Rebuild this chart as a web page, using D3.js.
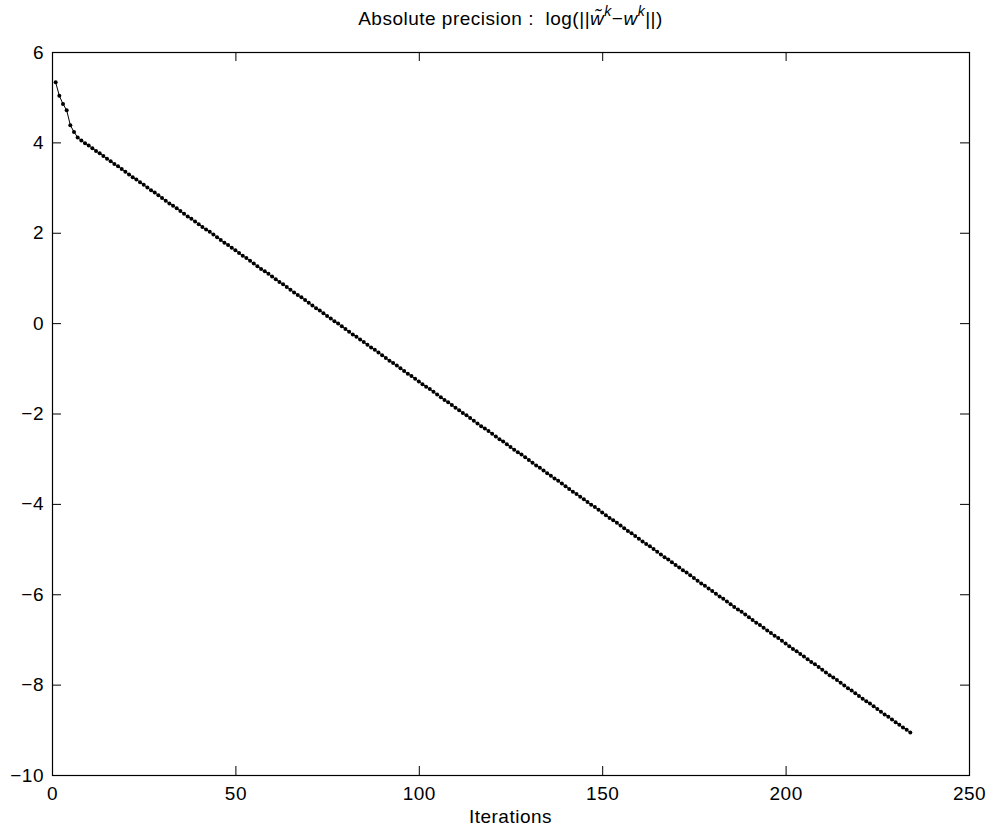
<!DOCTYPE html>
<html>
<head>
<meta charset="utf-8">
<script src="https://cdn.jsdelivr.net/npm/d3@7"></script>
<style>
  body { margin: 0; background: #fff; }
  svg text { font-family: "Liberation Sans", Arial, Helvetica, sans-serif; fill: #000; letter-spacing: 0.5px; }
</style>
</head>
<body>
<svg id="chart"></svg>
<script>
var width = 992,
    height = 832,
    margin = {top: 52, right: 23, bottom: 57, left: 52};

// iteration k = 1 .. 234, value log(||w~k - wk||)
var firstIter = 1;
var precision = [
    5.33, 5.03, 4.85, 4.71, 4.38, 4.23, 4.11, 4.04, 3.98,
    3.93, 3.87, 3.81, 3.76, 3.70, 3.64, 3.58, 3.52, 3.47, 3.41,
    3.35, 3.29, 3.23, 3.18, 3.12, 3.06, 3.00, 2.94, 2.89, 2.83,
    2.77, 2.71, 2.65, 2.60, 2.54, 2.48, 2.42, 2.36, 2.31, 2.25,
    2.19, 2.13, 2.07, 2.02, 1.96, 1.90, 1.84, 1.78, 1.73, 1.67,
    1.61, 1.55, 1.49, 1.44, 1.38, 1.32, 1.26, 1.20, 1.15, 1.09,
    1.03, 0.97, 0.91, 0.86, 0.80, 0.74, 0.68, 0.62, 0.57, 0.51,
    0.45, 0.39, 0.33, 0.28, 0.22, 0.16, 0.10, 0.04, -0.01, -0.07,
    -0.13, -0.19, -0.25, -0.30, -0.36, -0.42, -0.48, -0.54, -0.59, -0.65,
    -0.71, -0.77, -0.83, -0.88, -0.94, -1.00, -1.06, -1.12, -1.17, -1.23,
    -1.29, -1.35, -1.41, -1.46, -1.52, -1.58, -1.64, -1.70, -1.75, -1.81,
    -1.87, -1.93, -1.99, -2.04, -2.10, -2.16, -2.22, -2.28, -2.33, -2.39,
    -2.45, -2.51, -2.57, -2.62, -2.68, -2.74, -2.80, -2.86, -2.91, -2.97,
    -3.03, -3.09, -3.15, -3.20, -3.26, -3.32, -3.38, -3.44, -3.49, -3.55,
    -3.61, -3.67, -3.73, -3.78, -3.84, -3.90, -3.96, -4.02, -4.07, -4.13,
    -4.19, -4.25, -4.31, -4.36, -4.42, -4.48, -4.54, -4.60, -4.65, -4.71,
    -4.77, -4.83, -4.89, -4.94, -5.00, -5.06, -5.12, -5.18, -5.23, -5.29,
    -5.35, -5.41, -5.47, -5.52, -5.58, -5.64, -5.70, -5.76, -5.81, -5.87,
    -5.93, -5.99, -6.05, -6.10, -6.16, -6.22, -6.28, -6.34, -6.39, -6.45,
    -6.51, -6.57, -6.63, -6.68, -6.74, -6.80, -6.86, -6.92, -6.97, -7.03,
    -7.09, -7.15, -7.21, -7.26, -7.32, -7.38, -7.44, -7.50, -7.55, -7.61,
    -7.67, -7.73, -7.79, -7.84, -7.90, -7.96, -8.02, -8.08, -8.13, -8.19,
    -8.25, -8.31, -8.37, -8.42, -8.48, -8.54, -8.60, -8.66, -8.71, -8.77,
    -8.83, -8.89, -8.95, -9.00, -9.06
];

var xTicks = [0, 50, 100, 150, 200, 250];
var yTicks = [-10, -8, -6, -4, -2, 0, 2, 4, 6];
var xLabel = "Iterations";

var w = width - margin.left - margin.right,
    h = height - margin.top - margin.bottom;

var svg = d3.select("#chart")
    .attr("width", width)
    .attr("height", height);

var g = svg.append("g")
    .attr("transform", "translate(" + margin.left + "," + margin.top + ")");

var x = d3.scaleLinear().domain([0, 250]).range([0, w]);
var y = d3.scaleLinear().domain([-10, 6]).range([h, 0]);

var data = precision.map(function (v, i) {
    return {k: firstIter + i, v: v};
});

// axes, ticks pointing inward like matlab
var fontSize = 19;

g.append("g")
    .attr("class", "axis")
    .attr("transform", "translate(0," + h + ")")
    .call(d3.axisBottom(x).tickValues(xTicks).tickSizeInner(-9).tickSizeOuter(0).tickPadding(12));

g.append("g")
    .attr("class", "axis")
    .call(d3.axisLeft(y).tickValues(yTicks).tickSizeInner(-9).tickSizeOuter(0).tickPadding(8));

g.append("g")
    .attr("class", "axis")
    .call(d3.axisTop(x).tickValues(xTicks).tickSizeInner(-9).tickSizeOuter(0).tickFormat(""));

g.append("g")
    .attr("class", "axis")
    .attr("transform", "translate(" + w + ",0)")
    .call(d3.axisRight(y).tickValues(yTicks).tickSizeInner(-9).tickSizeOuter(0).tickFormat(""));

g.selectAll(".axis .domain").remove();
g.selectAll(".axis line").attr("stroke", "#000").attr("stroke-width", 1);
g.selectAll(".axis text")
    .style("font-size", fontSize + "px")
    .style("font-family", null)
    .attr("font-family", null)
    .attr("fill", "#000");

g.append("rect")
    .attr("x", 0.5)
    .attr("y", 0.5)
    .attr("width", w)
    .attr("height", h)
    .attr("fill", "none")
    .attr("stroke", "#000")
    .attr("stroke-width", 1.2);

// curve
var line = d3.line()
    .x(function (d) { return x(d.k); })
    .y(function (d) { return y(d.v); });

g.append("path")
    .datum(data)
    .attr("d", line)
    .attr("fill", "none")
    .attr("stroke", "#000")
    .attr("stroke-width", 1);

g.selectAll("circle.pt")
    .data(data)
    .enter()
    .append("circle")
    .attr("class", "pt")
    .attr("cx", function (d) { return x(d.k); })
    .attr("cy", function (d) { return y(d.v); })
    .attr("r", 2)
    .attr("fill", "#000");

// x label
svg.append("text")
    .attr("x", margin.left + w / 2)
    .attr("y", 823)
    .attr("text-anchor", "middle")
    .style("font-size", fontSize + "px")
    .text(xLabel);

// title with tilde w and superscripts
var title = svg.append("text")
    .attr("x", margin.left + w / 2)
    .attr("y", 25)
    .attr("text-anchor", "middle")
    .style("font-size", fontSize + "px")
    .style("white-space", "pre");

title.append("tspan").text("Absolute precision :  log(||");
title.append("tspan").style("font-style", "italic").text("w\u0303");
title.append("tspan").attr("dy", -9).style("font-size", "14px").style("font-style", "italic").text("k");
title.append("tspan").attr("dy", 9).text("\u2212");
title.append("tspan").style("font-style", "italic").text("w");
title.append("tspan").attr("dy", -9).style("font-size", "14px").style("font-style", "italic").text("k");
title.append("tspan").attr("dy", 9).text("||)");
</script>
</body>
</html>
